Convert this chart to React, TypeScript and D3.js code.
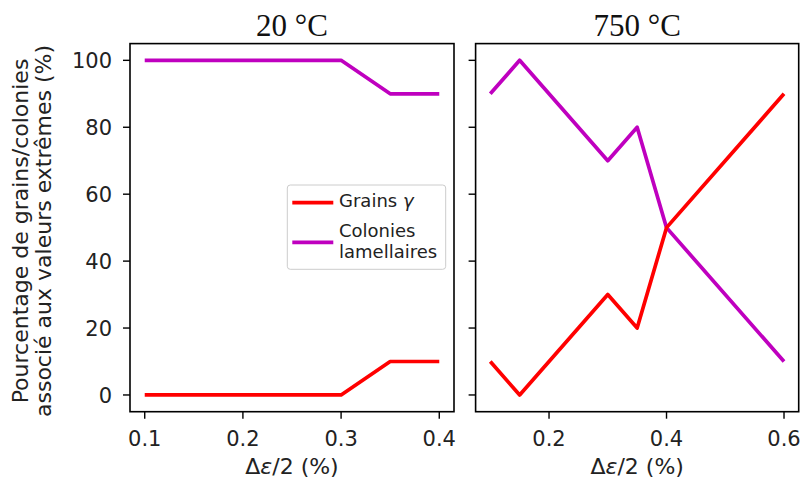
import React from "react";
import * as d3 from "d3";

const leftX = [0.1, 0.2, 0.3, 0.35, 0.4];
const leftGrains = [0, 0, 0, 10, 10];
const leftColonies = [100, 100, 100, 90, 90];

const rightX = [0.1, 0.15, 0.3, 0.35, 0.4, 0.6];
const rightGrains = [10, 0, 30, 20, 50, 90];
const rightColonies = [90, 100, 70, 80, 50, 10];

const yTicks = [0, 20, 40, 60, 80, 100];
const leftXTicks = [0.1, 0.2, 0.3, 0.4];
const rightXTicks = [0.2, 0.4, 0.6];

const RED = "#ff0000";
const MAG = "#bf00bf";
const SANS = "DejaVu Sans, sans-serif";
const SERIF = "Liberation Serif, Times New Roman, serif";

const TOP = 43.6;
const BOTTOM = 411.7;

const y = d3.scaleLinear().domain([-5, 105]).range([BOTTOM, TOP]);

type PanelProps = {
  x0: number;
  x1: number;
  domain: [number, number];
  xs: number[];
  grains: number[];
  colonies: number[];
  xTicks: number[];
  title: string;
  yLabels: boolean;
};

function Panel({ x0, x1, domain, xs, grains, colonies, xTicks, title, yLabels }: PanelProps) {
  const x = d3.scaleLinear().domain(domain).range([x0, x1]);
  const line = d3
    .line<number>()
    .x((_, i) => x(xs[i]))
    .y((d) => y(d));
  return (
    <g>
      <path d={line(colonies) || ""} fill="none" stroke={MAG} strokeWidth={3.7} strokeLinejoin="round" />
      <path d={line(grains) || ""} fill="none" stroke={RED} strokeWidth={3.7} strokeLinejoin="round" />
      <rect x={x0} y={TOP} width={x1 - x0} height={BOTTOM - TOP} fill="none" stroke="#000" strokeWidth={1.6} />
      {yTicks.map((t) => (
        <g key={"y" + t}>
          <line x1={x0 - 7} x2={x0} y1={y(t)} y2={y(t)} stroke="#000" strokeWidth={1.4} />
          {yLabels && (
            <text x={x0 - 18} y={y(t)} dy="0.36em" textAnchor="end" fontFamily={SANS} fontSize={21} fill="#222">
              {t}
            </text>
          )}
        </g>
      ))}
      {xTicks.map((t) => (
        <g key={"x" + t}>
          <line x1={x(t)} x2={x(t)} y1={BOTTOM} y2={BOTTOM + 7} stroke="#000" strokeWidth={1.4} />
          <text x={x(t)} y={BOTTOM + 34} textAnchor="middle" fontFamily={SANS} fontSize={21} fill="#222">
            {t.toFixed(1)}
          </text>
        </g>
      ))}
      <text x={(x0 + x1) / 2} y={35.5} textAnchor="middle" fontFamily={SERIF} fontSize={31} fill="#111">
        {title}
      </text>
      <text x={(x0 + x1) / 2} y={474} textAnchor="middle" fontFamily={SANS} fontSize={22} fill="#222">
        Δ<tspan fontStyle="italic">ε</tspan>/2 (%)
      </text>
    </g>
  );
}

export default function App() {
  return (
    <svg width={804} height={482} style={{ position: "absolute", left: 0, top: 0, background: "#fff" }}>
      <rect width={804} height={482} fill="#fff" />
      <Panel
        x0={130}
        x1={454}
        domain={[0.085, 0.415]}
        xs={leftX}
        grains={leftGrains}
        colonies={leftColonies}
        xTicks={leftXTicks}
        title="20 °C"
        yLabels={true}
      />
      <Panel
        x0={475.6}
        x1={798.7}
        domain={[0.075, 0.625]}
        xs={rightX}
        grains={rightGrains}
        colonies={rightColonies}
        xTicks={rightXTicks}
        title="750 °C"
        yLabels={false}
      />
      <g transform="translate(0,231) rotate(-90)" fontFamily={SANS} fontSize={22} fill="#222">
        <text x={0} y={28} textAnchor="middle">Pourcentage de grains/colonies</text>
        <text x={0} y={51} textAnchor="middle">associé aux valeurs extrêmes (%)</text>
      </g>
      <g>
        <rect x={287.3} y={185} width={158.4} height={84.3} rx={3} fill="#fff" fillOpacity={0.85} stroke="#ccc" strokeWidth={1} />
        <line x1={292.3} x2={333.3} y1={202.7} y2={202.7} stroke={RED} strokeWidth={3.7} />
        <text x={339} y={207} fontFamily={SANS} fontSize={18} fill="#222">
          Grains <tspan fontStyle="italic">γ</tspan>
        </text>
        <line x1={292.3} x2={333.3} y1={242.3} y2={242.3} stroke={MAG} strokeWidth={3.7} />
        <text x={339} y={236.7} fontFamily={SANS} fontSize={18} fill="#222">Colonies</text>
        <text x={339} y={257.7} fontFamily={SANS} fontSize={18} fill="#222">lamellaires</text>
      </g>
    </svg>
  );
}
